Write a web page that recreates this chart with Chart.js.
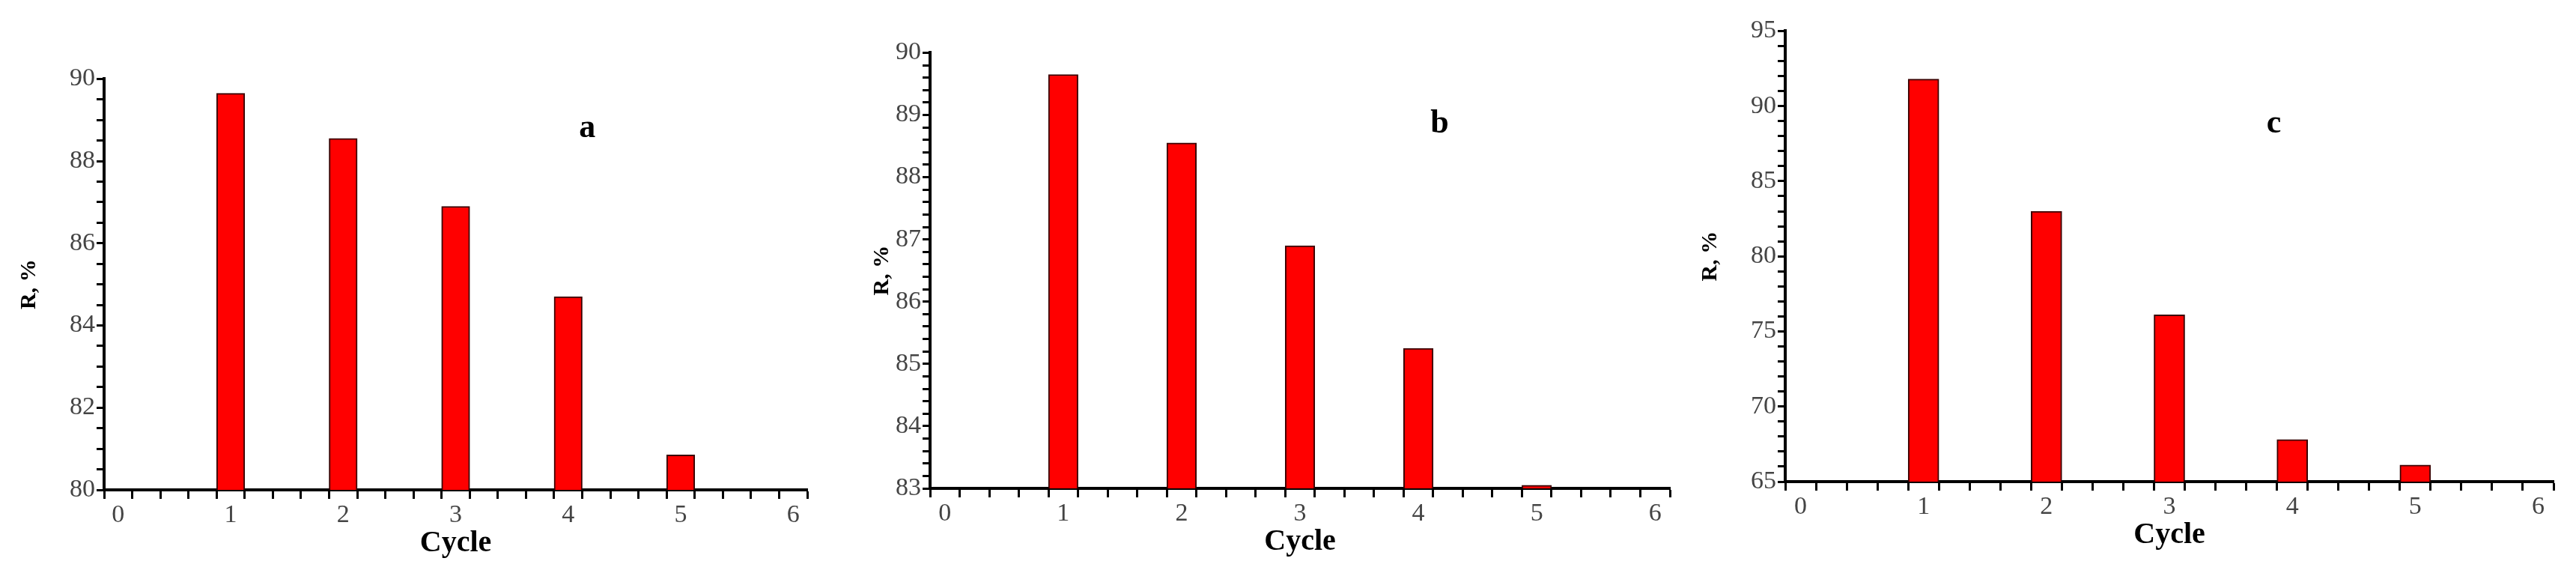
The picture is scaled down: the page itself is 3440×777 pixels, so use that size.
<!DOCTYPE html>
<html>
<head>
<meta charset="utf-8">
<script src="https://cdn.jsdelivr.net/npm/chart.js@4.4.0/dist/chart.umd.min.js"></script>
<style>
  body { margin: 0; background: #fff; width: 3440px; height: 777px; position: relative; overflow: hidden; }
  .box { position: absolute; }
</style>
</head>
<body>
<div class="box" id="boxA"><canvas id="chartA"></canvas></div>
<div class="box" id="boxB"><canvas id="chartB"></canvas></div>
<div class="box" id="boxC"><canvas id="chartC"></canvas></div>
<script>
// data
const cycles = [1, 2, 3, 4, 5];
const valuesA = [89.65, 88.55, 86.9, 84.7, 80.85];
const valuesB = [89.65, 88.55, 86.9, 85.25, 83.05];
const valuesC = [91.8, 83.0, 76.1, 67.8, 66.1];
const xTicks = [0, 1, 2, 3, 4, 5, 6];
const yLabelsA = [80, 82, 84, 86, 88, 90];
const yLabelsB = [83, 84, 85, 86, 87, 88, 89, 90];
const yLabelsC = [65, 70, 75, 80, 85, 90, 95];

const serif = "'Liberation Serif', 'DejaVu Serif', serif";

// panel letter drawn at data coordinates
const letterPlugin = {
	id: "letter",
	afterDraw(chart, args, opts) {
		const c = chart.ctx;
		c.save();
		c.font = "bold 44px " + serif;
		c.fillStyle = "#000";
		c.textAlign = "center";
		c.textBaseline = "middle";
		c.fillText(opts.text, chart.scales.x.getPixelForValue(opts.x), chart.scales.y.getPixelForValue(opts.y));
		c.restore();
	},
};

function isLabel(v, list) {
	return list.some((l) => Math.abs(l - v) < 1e-6);
}

function makePanel(id, boxId, area, yAxisW, values, yMin, yMax, yStep, yLabels, letter) {
	const box = document.getElementById(boxId);
	const left = area.l - yAxisW;
	const top = area.t - 20;
	box.style.left = left + "px";
	box.style.top = top + "px";
	box.style.width = area.r + 20 - left + "px";
	box.style.height = area.b + 100 - top + "px";

	new Chart(document.getElementById(id), {
		type: "bar",
		data: {
			datasets: [
				{
					data: cycles.map((c, i) => ({ x: c, y: values[i] })),
					backgroundColor: "#ff0000",
					borderColor: "#3a0000",
					borderWidth: 2,
					barPercentage: 1,
					categoryPercentage: 1,
					borderSkipped: "bottom",
				},
			],
		},
		options: {
			responsive: true,
			maintainAspectRatio: false,
			animation: false,
			layout: { padding: { top: 20, right: 20, left: 0, bottom: 0 } },
			plugins: {
				legend: { display: false },
				tooltip: { enabled: false },
				letter: letter,
			},
			scales: {
				x: {
					type: "linear",
					min: 0,
					max: 6,
					afterFit: (s) => { s.height = 100; },
					afterBuildTicks: (s) => {
						const t = [];
						for (let v = 0; v <= 6.0001; v += 0.25) t.push({ value: v });
						s.ticks = t;
					},
					grid: { drawOnChartArea: false, color: "#000", tickLength: 12, tickWidth: 3 },
					border: { color: "#000", width: 4 },
					ticks: {
						autoSkip: false,
						maxRotation: 0,
						padding: 2,
						color: "#444",
						font: { family: serif, size: 34 },
						callback: (v) => (isLabel(v, xTicks) ? String(Math.round(v)) : ""),
					},
					title: {
						display: true,
						text: "Cycle",
						color: "#000",
						padding: { top: 4 },
						font: { family: serif, size: 40, weight: "bold" },
					},
				},
				y: {
					min: yMin,
					max: yMax,
					afterFit: (s) => { s.width = yAxisW; },
					afterBuildTicks: (s) => {
						const t = [];
						for (let v = yMin; v <= yMax + 1e-6; v += yStep) t.push({ value: Math.round(v * 1000) / 1000 });
						s.ticks = t;
					},
					grid: { drawOnChartArea: false, color: "#000", tickLength: 10, tickWidth: 3 },
					border: { color: "#000", width: 4 },
					ticks: {
						autoSkip: false,
						padding: 2,
						color: "#444",
						font: { family: serif, size: 34 },
						callback: (v) => (isLabel(v, yLabels) ? String(Math.round(v)) : ""),
					},
					title: {
						display: true,
						text: "R, %",
						color: "#000",
						padding: 0,
						font: { family: serif, size: 30, weight: "bold" },
					},
				},
			},
		},
		plugins: [letterPlugin],
	});
}

makePanel("chartA", "boxA", { l: 139, r: 1078, t: 103, b: 654 }, 118, valuesA, 80, 90, 0.5, yLabelsA, { text: "a", x: 4.17, y: 88.8 });
makePanel("chartB", "boxB", { l: 1242, r: 2230, t: 68, b: 652 }, 82, valuesB, 83, 90, 0.2, yLabelsB, { text: "b", x: 4.18, y: 88.85 });
makePanel("chartC", "boxC", { l: 2384, r: 3410, t: 39, b: 643 }, 118, valuesC, 65, 95, 1, yLabelsC, { text: "c", x: 3.85, y: 88.8 });
</script>
</body>
</html>
